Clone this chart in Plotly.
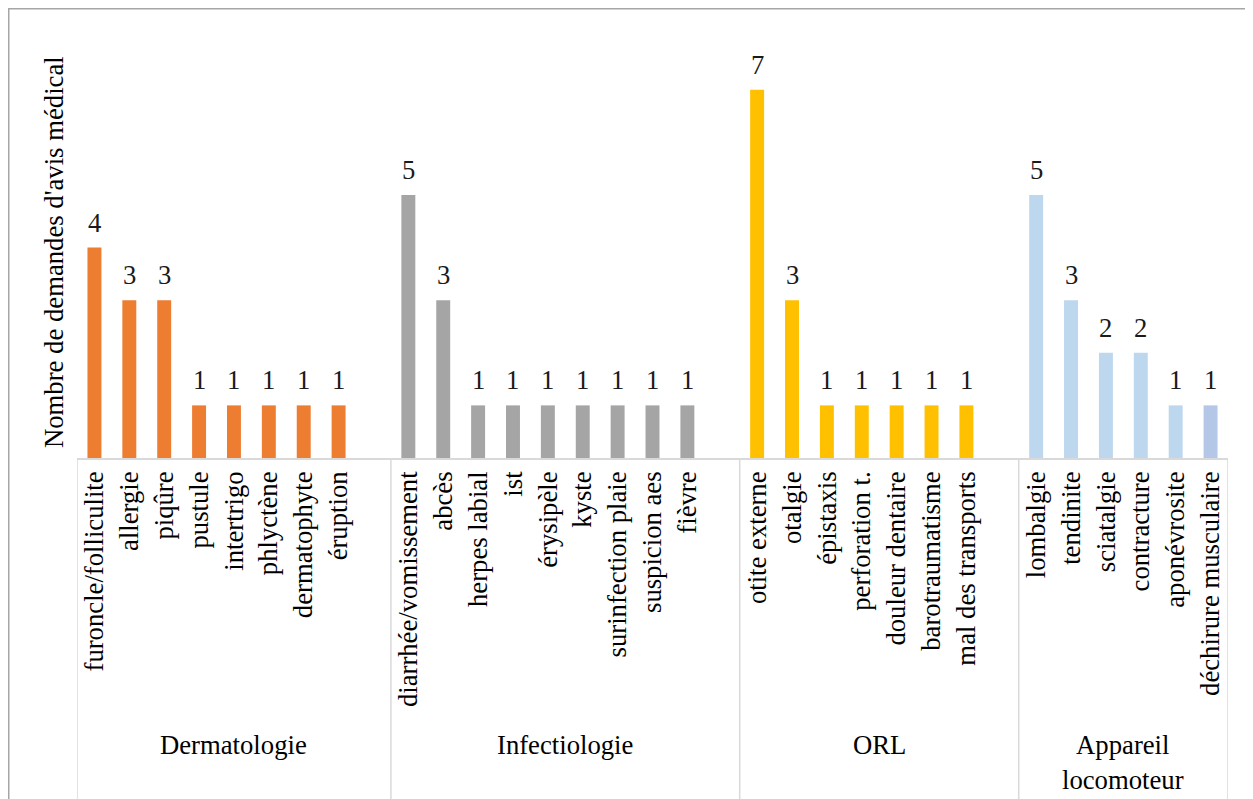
import plotly.graph_objects as go

# ---------------- data ----------------
group_names = ["Dermatologie", "Infectiologie", "ORL", "Appareil<br>locomoteur"]

derm_labels = ["furoncle/folliculite", "allergie", "piqûre", "pustule", "intertrigo",
               "phlyctène", "dermatophyte", "éruption"]
derm_values = [4, 3, 3, 1, 1, 1, 1, 1]

infect_labels = ["diarrhée/vomissement", "abcès", "herpes labial", "ist", "érysipèle",
                 "kyste", "surinfection plaie", "suspicion aes", "fièvre"]
infect_values = [5, 3, 1, 1, 1, 1, 1, 1, 1]

orl_labels = ["otite externe", "otalgie", "épistaxis", "perforation t.", "douleur dentaire",
              "barotraumatisme", "mal des transports"]
orl_values = [7, 3, 1, 1, 1, 1, 1]

loco_labels = ["lombalgie", "tendinite", "sciatalgie", "contracture", "aponévrosite",
               "déchirure musculaire"]
loco_values = [5, 3, 2, 2, 1, 1]

y_title = "Nombre de demandes d'avis médical"

# ---------------- styles ----------------
FONT = "Liberation Serif"
FS = 26.7
group_colors = ["#ED7D31", "#A5A5A5", "#FFC000", "#BDD7EE"]
last_bar_color = "#B4C7E7"
line_gray = "#D9D9D9"

OFF = 8  # page body margin
W, H = 1253 - OFF, 799 - OFF
ML, MT = 77 - OFF, 37 - OFF
MR = W - (1228 - OFF)
MB = H - (458 - OFF)
PW, PH = W - ML - MR, H - MT - MB

def px_x(px):  # page pixel -> paper x
    return (px - OFF - ML) / PW

def px_y(py):  # page pixel -> paper y
    return (H - MB - (py - OFF)) / PH

all_labels = [derm_labels, infect_labels, orl_labels, loco_labels]
all_values = [derm_values, infect_values, orl_values, loco_values]

# category order with one blank slot after each group except the last
categories = []
boundaries = [-0.5]
pos = -0.5
for gi, labs in enumerate(all_labels):
    categories += labs
    pos += len(labs)
    if gi < len(all_labels) - 1:
        categories.append(" " * (gi + 1))
        pos += 1
    boundaries.append(pos)

fig = go.Figure()
for gi, (labs, vals) in enumerate(zip(all_labels, all_values)):
    colors = [group_colors[gi]] * len(labs)
    if gi == len(all_labels) - 1:
        colors[-1] = last_bar_color
    fig.add_trace(go.Bar(x=labs, y=vals, marker=dict(color=colors, line=dict(width=0)),
                         name=group_names[gi].replace("<br>", " "), showlegend=False,
                         hoverinfo="x+y"))

annotations = []
# data labels
for labs, vals in zip(all_labels, all_values):
    for lab, v in zip(labs, vals):
        annotations.append(dict(x=lab, y=v, xref="x", yref="y", text=str(v), showarrow=False,
                                yanchor="bottom", xanchor="center", yshift=8,
                                font=dict(family=FONT, size=FS, color="#1A1A1A")))
# group labels
for gi, name in enumerate(group_names):
    cx = (boundaries[gi] + boundaries[gi + 1]) / 2
    annotations.append(dict(x=cx, y=0, xref="x", yref="paper", yshift=-270, text=name,
                            showarrow=False, yanchor="top", xanchor="center",
                            font=dict(family=FONT, size=FS, color="#000000")))
# y axis title
annotations.append(dict(x=0, y=px_y(252), xref="paper", yref="paper", xshift=-23,
                        text=y_title, textangle=-90, showarrow=False,
                        xanchor="center", yanchor="middle",
                        font=dict(family=FONT, size=FS, color="#000000")))

shapes = []
for b in boundaries:
    shapes.append(dict(type="line", xref="x", yref="paper", x0=b, x1=b, y0=0, y1=px_y(830),
                       line=dict(color=line_gray, width=1.5)))
# outer chart border (clipped by the picture on right and bottom)
shapes.append(dict(type="rect", xref="paper", yref="paper", x0=px_x(8.5), x1=px_x(1300),
                   y0=px_y(850), y1=px_y(8.5), line=dict(color="#A6A6A6", width=2),
                   fillcolor="rgba(0,0,0,0)", layer="below"))

fig.update_layout(
    width=W, height=H,
    margin=dict(l=ML, r=MR, t=MT, b=MB, autoexpand=False),
    paper_bgcolor="white", plot_bgcolor="white",
    barmode="overlay", bargap=0.6,
    font=dict(family=FONT, size=FS, color="#000000"),
    xaxis=dict(type="category", categoryorder="array", categoryarray=categories,
               range=[-0.5, len(categories) - 0.5], tickangle=-90, showline=True,
               linecolor=line_gray, linewidth=1.5, ticks="", showgrid=False,
               automargin=False, ticklabelstandoff=1,
               tickfont=dict(family=FONT, size=FS, color="#000000")),
    yaxis=dict(range=[0, 8], visible=False, showgrid=False, zeroline=False),
    annotations=annotations, shapes=shapes,
)

fig.write_html("out.html")
